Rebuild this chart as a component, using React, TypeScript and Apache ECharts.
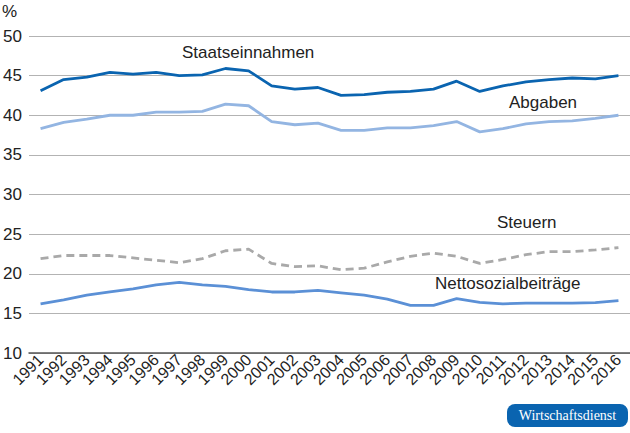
import React, { useEffect, useRef } from 'react';
import * as echarts from 'echarts';

const years = [
  '1991', '1992', '1993', '1994', '1995', '1996', '1997', '1998', '1999', '2000',
  '2001', '2002', '2003', '2004', '2005', '2006', '2007', '2008', '2009', '2010',
  '2011', '2012', '2013', '2014', '2015', '2016',
];

const staatseinnahmen = [
  43.1, 44.5, 44.8, 45.4, 45.2, 45.4, 45.0, 45.1, 45.9, 45.6,
  43.7, 43.3, 43.5, 42.5, 42.6, 42.9, 43.0, 43.3, 44.3, 43.0,
  43.7, 44.2, 44.5, 44.7, 44.6, 45.0,
];

const abgaben = [
  38.3, 39.1, 39.5, 40.0, 40.0, 40.4, 40.4, 40.5, 41.4, 41.2,
  39.2, 38.8, 39.0, 38.1, 38.1, 38.4, 38.4, 38.7, 39.2, 37.9,
  38.3, 38.9, 39.2, 39.3, 39.6, 40.0,
];

const steuern = [
  21.9, 22.3, 22.3, 22.3, 22.0, 21.7, 21.4, 21.9, 22.9, 23.1,
  21.3, 20.9, 21.0, 20.5, 20.7, 21.5, 22.2, 22.6, 22.2, 21.3,
  21.8, 22.4, 22.8, 22.8, 23.0, 23.3,
];

const nettosozial = [
  16.2, 16.7, 17.3, 17.7, 18.1, 18.6, 18.9, 18.6, 18.4, 18.0,
  17.7, 17.7, 17.9, 17.6, 17.3, 16.8, 16.0, 16.0, 16.85, 16.4,
  16.2, 16.3, 16.3, 16.3, 16.35, 16.6,
];

const FONT = '"Liberation Sans", Arial, Helvetica, sans-serif';

const App: React.FC = () => {
  const chartRef = useRef<HTMLDivElement>(null);

  useEffect(() => {
    if (!chartRef.current) return;
    const chart = echarts.init(chartRef.current, undefined, { renderer: 'svg' });

    const label = (text: string, x: number, y: number) => ({
      type: 'text',
      left: x,
      top: y,
      style: { text, fill: '#222', font: `17px ${FONT}` },
    });

    const option = {
      animation: false,
      grid: { left: 28, right: 0, top: 36, bottom: 80, containLabel: false },
      xAxis: {
        type: 'category',
        data: years,
        boundaryGap: true,
        axisLine: { lineStyle: { color: '#555', width: 1.5 } },
        axisTick: { show: false },
        axisLabel: {
          rotate: 45,
          interval: 0,
          margin: 4,
          color: '#222',
          fontSize: 16,
          fontFamily: FONT,
        },
      },
      yAxis: {
        type: 'value',
        min: 10,
        max: 50,
        interval: 5,
        axisLine: { show: false },
        axisTick: { show: false },
        axisLabel: {
          color: '#222',
          fontSize: 17,
          fontFamily: FONT,
          align: 'left',
          margin: 26,
        },
        splitLine: { lineStyle: { color: '#b3b3b3', width: 1 } },
      },
      series: [
        {
          name: 'Staatseinnahmen',
          type: 'line',
          data: staatseinnahmen,
          symbol: 'none',
          lineStyle: { color: '#0a64b0', width: 2.8 },
        },
        {
          name: 'Abgaben',
          type: 'line',
          data: abgaben,
          symbol: 'none',
          lineStyle: { color: '#93b5e2', width: 2.8 },
        },
        {
          name: 'Steuern',
          type: 'line',
          data: steuern,
          symbol: 'none',
          lineStyle: { color: '#a9a9a9', width: 2.8, type: [8, 5] },
        },
        {
          name: 'Nettosozialbeiträge',
          type: 'line',
          data: nettosozial,
          symbol: 'none',
          lineStyle: { color: '#5b90d6', width: 2.8 },
        },
      ],
      graphic: [
        label('%', 2, 3),
        label('Staatseinnahmen', 182, 44),
        label('Abgaben', 509, 94),
        label('Steuern', 497, 214),
        label('Nettosozialbeiträge', 435, 275),
        {
          type: 'group',
          left: 507,
          top: 404,
          children: [
            {
              type: 'rect',
              shape: { x: 0, y: 0, width: 121, height: 23, r: 8 },
              style: { fill: '#0a64b0' },
            },
            {
              type: 'text',
              x: 60.5,
              y: 11.5,
              style: {
                text: 'Wirtschaftsdienst',
                fill: '#fff',
                font: '14px "Liberation Serif", "DejaVu Serif", serif',
                textAlign: 'center',
                textVerticalAlign: 'middle',
              },
            },
          ],
        },
      ],
    };

    chart.setOption(option);
    return () => {
      chart.dispose();
    };
  }, []);

  return (
    <div
      ref={chartRef}
      style={{ position: 'absolute', left: 0, top: 0, width: 630, height: 433 }}
    />
  );
};

export default App;
